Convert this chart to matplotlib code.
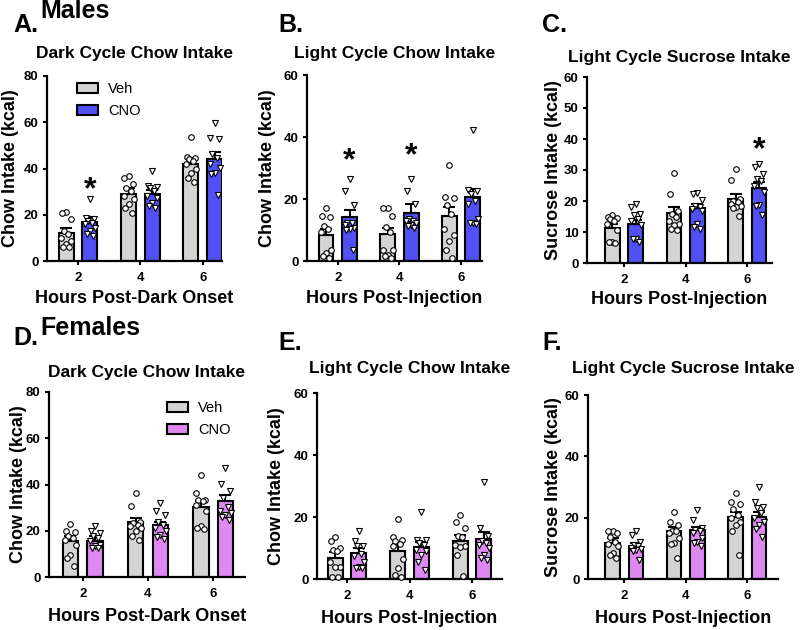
import matplotlib.pyplot as plt
import numpy as np

plt.rcParams['font.family'] = ['Liberation Sans', 'DejaVu Sans']
plt.rcParams['font.weight'] = 'bold'

W, H = 800, 630
HOURS = ["2", "4", "6"]
GRAY = "#d4d4d4"
BLUE = "#5050f5"
VIOLET = "#de88f2"

# ---- Panel A: males, dark cycle chow ----
a_veh_mean = [12.2, 29.1, 42.1]
a_veh_sem = [2.2, 2.3, 2.3]
a_cno_mean = [17.0, 28.8, 44.2]
a_cno_sem = [2.0, 1.9, 3.1]
a_veh_pts = [[21.2, 20.9, 18.3, 13.0, 11.5, 10.0, 8.6, 7.2, 6.2, 6.2],
             [36.7, 35.7, 33.1, 31.4, 30.2, 28.1, 26.7, 24.8, 23.0, 20.9],
             [53.6, 45.0, 44.4, 43.9, 43.2, 41.8, 39.6, 38.2, 36.0, 34.1]]
a_cno_pts = [[26.7, 18.7, 18.0, 17.3, 16.6, 15.9, 14.4, 13.0, 11.5, 10.8],
             [38.9, 32.4, 32.1, 31.7, 30.2, 28.0, 27.4, 25.2, 23.8, 23.0],
             [59.8, 53.0, 52.6, 46.1, 44.4, 42.1, 40.3, 38.2, 37.5, 28.5]]
a_stars = [(0, 32.0)]

# ---- Panel B: males, light cycle chow ----
b_veh_mean = [8.3, 8.6, 14.4]
b_veh_sem = [2.0, 2.2, 3.1]
b_cno_mean = [14.3, 15.5, 20.5]
b_cno_sem = [2.3, 2.9, 2.7]
b_veh_pts = [[17.1, 14.6, 14.1, 11.4, 10.3, 9.4, 3.5, 2.5, 1.6, 1.1],
             [17.1, 17.1, 14.6, 11.0, 9.2, 3.6, 3.6, 1.9, 1.6, 1.1],
             [31.1, 20.8, 20.3, 18.2, 15.1, 10.3, 8.3, 6.5, 3.6, 1.1]]
b_cno_pts = [[26.5, 22.7, 18.2, 12.4, 12.1, 11.7, 10.8, 10.3, 9.9, 3.6],
             [26.5, 22.7, 18.4, 13.5, 13.0, 12.8, 12.1, 11.7, 11.4, 10.8],
             [42.2, 23.0, 22.7, 21.6, 19.5, 18.4, 13.5, 12.4, 12.4, 11.9]]
b_stars = [(0, 33.3), (1, 34.8)]

# ---- Panel C: males, light cycle sucrose ----
c_veh_mean = [11.3, 16.1, 20.7]
c_veh_sem = [1.3, 1.9, 1.6]
c_cno_mean = [12.6, 17.7, 24.1]
c_cno_sem = [1.4, 1.4, 1.9]
c_veh_pts = [[15.6, 14.8, 14.5, 14.2, 13.5, 12.6, 10.7, 6.9, 6.7, 6.5],
             [29.1, 22.3, 16.9, 15.8, 14.8, 13.7, 12.6, 12.1, 11.0, 10.7],
             [30.3, 26.8, 20.7, 20.1, 19.6, 19.1, 18.5, 18.0, 17.8, 15.3]]
c_cno_pts = [[19.1, 18.0, 15.8, 15.6, 14.2, 13.7, 12.1, 7.8, 7.8, 6.7],
             [22.5, 22.1, 20.2, 18.5, 18.0, 17.5, 16.9, 12.6, 11.5, 11.0],
             [31.8, 30.9, 28.6, 27.2, 26.6, 25.0, 22.8, 18.8, 18.5, 15.6]]
c_stars = [(2, 37.4)]

# ---- Panel D: females, dark cycle chow ----
d_veh_mean = [15.4, 23.6, 30.3]
d_veh_sem = [2.2, 1.9, 2.4]
d_cno_mean = [15.7, 22.3, 32.9]
d_cno_sem = [1.9, 1.7, 2.7]
d_veh_pts = [[23.0, 19.7, 19.5, 17.6, 16.9, 16.1, 14.0, 9.7, 8.2, 4.6],
             [36.3, 30.8, 24.0, 23.5, 22.6, 21.9, 21.2, 19.7, 17.6, 15.9],
             [43.9, 36.3, 33.4, 33.4, 32.7, 31.3, 28.7, 21.9, 21.2, 20.7]]
d_cno_pts = [[21.9, 19.7, 19.0, 17.6, 16.9, 15.4, 14.0, 13.3, 12.5, 12.5],
             [32.0, 28.4, 26.9, 24.0, 22.6, 21.2, 19.7, 18.3, 17.1, 16.6],
             [47.1, 40.3, 37.3, 34.1, 30.1, 28.4, 27.7, 26.9, 25.8, 24.8]]

# ---- Panel E: females, light cycle chow ----
e_veh_mean = [6.9, 9.1, 12.4]
e_veh_sem = [1.7, 2.2, 1.7]
e_cno_mean = [8.3, 10.2, 13.0]
e_cno_sem = [1.7, 1.7, 2.2]
e_veh_pts = [[13.5, 12.1, 10.0, 9.4, 8.9, 5.6, 4.0, 3.8, 0.8, 0.8],
             [19.5, 13.4, 12.7, 12.1, 11.3, 10.8, 6.5, 3.7, 1.3, 0.8],
             [20.8, 18.4, 16.3, 13.8, 13.5, 11.0, 10.7, 10.2, 7.6, 1.1]]
e_cno_pts = [[15.6, 12.4, 10.8, 10.5, 8.0, 7.3, 5.6, 4.0, 3.5, 3.5],
             [21.6, 12.7, 12.5, 11.6, 11.0, 9.4, 8.9, 7.6, 5.6, 2.9],
             [31.4, 16.5, 13.8, 12.1, 11.6, 11.0, 10.0, 7.8, 6.7, 6.2]]

# ---- Panel F: females, light cycle sucrose ----
f_veh_mean = [11.9, 15.5, 20.1]
f_veh_sem = [1.4, 1.6, 1.8]
f_cno_mean = [10.3, 16.0, 20.3]
f_cno_sem = [1.4, 0.8, 1.6]
f_veh_pts = [[15.8, 15.5, 14.9, 13.8, 12.2, 11.4, 10.9, 8.4, 7.9, 6.8],
             [21.7, 18.7, 17.6, 15.7, 15.5, 14.9, 13.3, 11.7, 11.4, 6.8],
             [27.9, 25.2, 24.6, 22.8, 20.9, 19.8, 18.7, 17.6, 15.5, 7.9]]
f_cno_pts = [[15.5, 14.4, 12.0, 11.1, 10.6, 10.1, 9.8, 9.5, 9.0, 6.3],
             [22.5, 19.2, 16.5, 16.0, 15.5, 14.9, 13.3, 12.2, 11.7, 10.6],
             [30.1, 25.2, 23.6, 23.0, 21.4, 20.0, 18.7, 17.6, 16.3, 13.8]]

JITTER = np.array([0.0, -0.07, 0.07, -0.035, 0.035, -0.08, 0.08, 0.0, -0.05, 0.05])
BAR_W = 0.24
OFF = 0.19

fig = plt.figure(figsize=(W / 100, H / 100), dpi=100)


def px_axes(l, t, r, b):
    return fig.add_axes([l / W, 1 - b / H, (r - l) / W, (b - t) / H])


def ftext(x, y, s, size, **kw):
    fig.text(x / W, 1 - y / H, s, fontsize=size, fontweight='bold', va='baseline', **kw)


def panel(box, xlim, ymax, ystep, veh_m, veh_s, cno_m, cno_s, veh_p, cno_p,
          cno_col, title, title_y, xlabel, ylabel, ylab_off, xlab_off, stars=()):
    ax = px_axes(*box)
    x = np.arange(3)
    for xs, m, s, pts, col, mk in [(x - OFF, veh_m, veh_s, veh_p, GRAY, 'o'),
                                   (x + OFF, cno_m, cno_s, cno_p, cno_col, 'v')]:
        ax.bar(xs, m, width=BAR_W, color=col, edgecolor='black', linewidth=1.5, zorder=2)
        ax.errorbar(xs, m, yerr=[np.zeros(3), s], fmt='none', ecolor='black',
                    elinewidth=1.5, capsize=4, capthick=1.5, zorder=3)
        for xi, p in zip(xs, pts):
            ax.plot(xi + JITTER[:len(p)], p, linestyle='none', marker=mk,
                    markersize=4, markerfacecolor='white', markeredgecolor='black',
                    markeredgewidth=0.8, zorder=4, clip_on=False)
    for gi, yv in stars:
        ax.text(gi + OFF, yv, '*', fontsize=23, fontweight='bold', ha='center',
                va='center_baseline', zorder=5)
    ax.set_xlim(*xlim)
    ax.set_ylim(0, ymax)
    ax.set_yticks(np.arange(0, ymax + 1, ystep))
    ax.set_xticks(x)
    ax.set_xticklabels(HOURS)
    ax.spines[['top', 'right']].set_visible(False)
    ax.spines[['left', 'bottom']].set_linewidth(1.6)
    ax.tick_params(axis='both', width=1.5, length=3, labelsize=9.5, color='black')
    ax.tick_params(axis='y', pad=3)
    ax.tick_params(axis='x', pad=5)
    for lab in ax.get_xticklabels() + ax.get_yticklabels():
        lab.set_fontweight('bold')
    hpx = box[3] - box[1]
    wpx = box[2] - box[0]
    ax.set_xlabel(xlabel, fontsize=13, fontweight='bold')
    ax.xaxis.set_label_coords(0.5, -xlab_off / hpx)
    ax.set_ylabel(ylabel, fontsize=13, fontweight='bold')
    ax.yaxis.set_label_coords(-ylab_off / wpx, 0.5)
    ax.text(0.5, 1 + (box[1] - title_y) / hpx, title, transform=ax.transAxes,
            fontsize=12.5, fontweight='bold', ha='center', va='baseline')
    return ax


axA = panel((47, 76, 222, 261), (-0.5, 2.31), 80, 20, a_veh_mean, a_veh_sem,
            a_cno_mean, a_cno_sem, a_veh_pts, a_cno_pts, BLUE,
            "Dark Cycle Chow Intake", 58, "Hours Post-Dark Onset", "Chow Intake (kcal)", 28, 29, a_stars)
axB = panel((307, 75, 482, 261), (-0.5, 2.34), 60, 20, b_veh_mean, b_veh_sem,
            b_cno_mean, b_cno_sem, b_veh_pts, b_cno_pts, BLUE,
            "Light Cycle Chow Intake", 58, "Hours Post-Injection", "Chow Intake (kcal)", 31, 29, b_stars)
axC = panel((587, 77, 772, 263), (-0.6, 2.4), 60, 10, c_veh_mean, c_veh_sem,
            c_cno_mean, c_cno_sem, c_veh_pts, c_cno_pts, BLUE,
            "Light Cycle Sucrose Intake", 62, "Hours Post-Injection", "Sucrose Intake (kcal)", 25, 28, c_stars)
axD = panel((49, 392, 245, 577), (-0.52, 2.49), 80, 20, d_veh_mean, d_veh_sem,
            d_cno_mean, d_cno_sem, d_veh_pts, d_cno_pts, VIOLET,
            "Dark Cycle Chow Intake", 377, "Hours Post-Dark Onset", "Chow Intake (kcal)", 22, 31)
axE = panel((317, 393, 502, 579), (-0.48, 2.48), 60, 20, e_veh_mean, e_veh_sem,
            e_cno_mean, e_cno_sem, e_veh_pts, e_cno_pts, VIOLET,
            "Light Cycle Chow Intake", 373, "Hours Post-Injection", "Chow Intake (kcal)", 32, 31)
axF = panel((588, 395, 778, 579), (-0.59, 2.5), 60, 20, f_veh_mean, f_veh_sem,
            f_cno_mean, f_cno_sem, f_veh_pts, f_cno_pts, VIOLET,
            "Light Cycle Sucrose Intake", 373, "Hours Post-Injection", "Sucrose Intake (kcal)", 26, 31)

for ax, col, anchor in [(axA, BLUE, (0.171, 0.968)), (axD, VIOLET, (0.602, 0.951))]:
    handles = [plt.Rectangle((0, 0), 1, 1, facecolor=GRAY, edgecolor='black', linewidth=1.5),
               plt.Rectangle((0, 0), 1, 1, facecolor=col, edgecolor='black', linewidth=1.5)]
    ax.legend(handles, ["Veh", "CNO"], loc='upper left', bbox_to_anchor=anchor,
              frameon=False, borderpad=0, borderaxespad=0, handlelength=1.45,
              handleheight=0.72, handletextpad=0.7, labelspacing=0.55,
              prop={'size': 10.5, 'weight': 'normal'})

ftext(13, 32, "A.", 18)
ftext(40, 18, "Males", 18)
ftext(278, 32, "B.", 18)
ftext(542, 32, "C.", 18)
ftext(13, 345, "D.", 18)
ftext(40, 335, "Females", 18)
ftext(278, 350, "E.", 18)
ftext(542, 350, "F.", 18)

plt.savefig("out.png", dpi=100)
